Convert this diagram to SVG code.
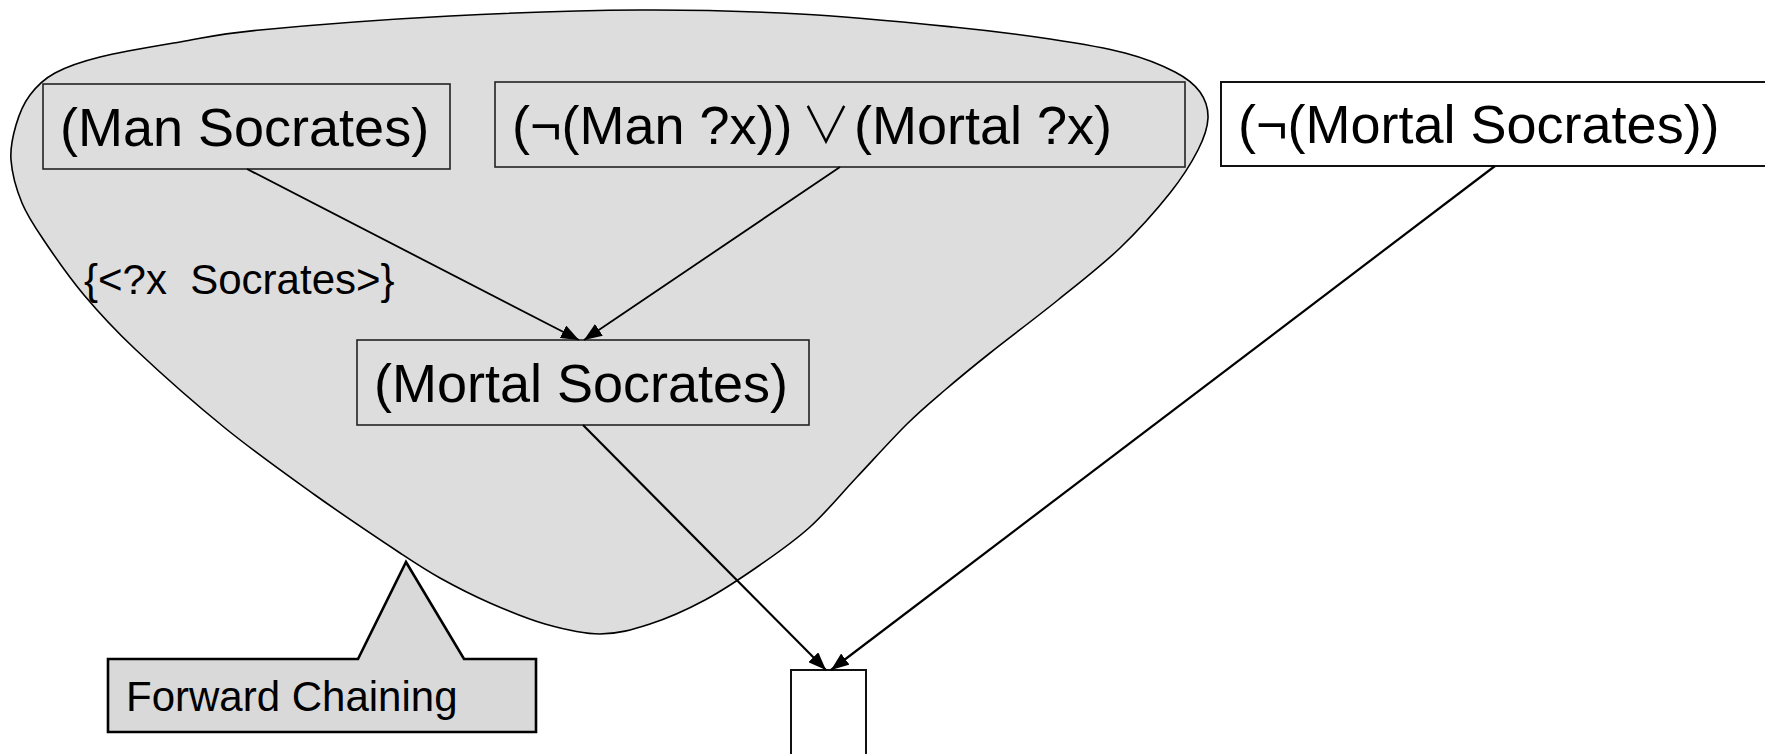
<svg xmlns="http://www.w3.org/2000/svg" width="1765" height="754" viewBox="0 0 1765 754">
  <style>
    .blob { fill: #dddddd; stroke: #000; stroke-width: 1.6; }
    .box { fill: none; stroke: #222; stroke-width: 1.6; }
    .box-w { fill: #fff; stroke: #111; stroke-width: 2; }
    .lbl { font-family: "Liberation Sans", Arial, sans-serif; font-size: 54px; fill: #000; }
    .small { font-family: "Liberation Sans", Arial, sans-serif; font-size: 42px; fill: #000; white-space: pre; }
    .sym { font-family: "Noto Sans CJK JP", "DejaVu Sans", sans-serif; font-size: 50px; font-weight: 300; letter-spacing: -28px; }
    .tight { word-spacing: -15px; }
    .edge { fill: none; stroke: #000; }
    .callout { fill: #d9d9d9; stroke: #000; stroke-width: 2.6; stroke-linejoin: miter; }
  </style>
  <defs>
    <marker id="arrow" viewBox="0 0 18 14" refX="18" refY="7" markerWidth="18" markerHeight="14" markerUnits="userSpaceOnUse" orient="auto">
      <path d="M0,0 L18,7 L0,14 Z" fill="#000"/>
    </marker>
  </defs>

  <rect width="1765" height="754" fill="#fff"/>

  <!-- forward-chaining region -->
  <path id="region" class="blob" d="M11,160
    C10,147 12.83,135.83 16,125
    C19.17,114.17 23.5,103.67 30,95
    C36.5,86.33 43.33,79.33 55,73
    C66.67,66.67 79.17,62.17 100,57
    C120.83,51.83 153.33,46.5 180,42
    C206.67,37.5 215,34.33 260,30
    C305,25.67 386.67,19.33 450,16
    C513.33,12.67 581.67,10.33 640,10
    C698.33,9.67 747.83,11.17 800,14
    C852.17,16.83 911.33,22.83 953,27
    C994.67,31.17 1021.33,34.67 1050,39
    C1078.67,43.33 1104.17,47.5 1125,53
    C1145.83,58.5 1162.5,65.5 1175,72
    C1187.5,78.5 1194.5,84.33 1200,92
    C1205.5,99.67 1208.33,108.33 1208,118
    C1207.67,127.67 1204.33,137.5 1198,150
    C1191.67,162.5 1183,176.67 1170,193
    C1157,209.33 1138.67,230.17 1120,248
    C1101.33,265.83 1079.67,282.5 1058,300
    C1036.33,317.5 1008.83,338 990,353
    C971.17,368 958.83,378.17 945,390
    C931.17,401.83 921.67,409.5 907,424
    C892.33,438.5 873.17,459.83 857,477
    C840.83,494.17 826.17,512.33 810,527
    C793.83,541.67 777.5,552.83 760,565
    C742.5,577.17 723.33,590.17 705,600
    C686.67,609.83 667.5,618.33 650,624
    C632.5,629.67 617.5,634 600,634
    C582.5,634 563.33,629.17 545,624
    C526.67,618.83 507.5,610.67 490,603
    C472.5,595.33 455,586.33 440,578
    C425,569.67 420.83,566.83 400,553
    C379.17,539.17 344.17,515.83 315,495
    C285.83,474.17 255,452.33 225,428
    C195,403.67 158.5,371.17 135,349
    C111.5,326.83 99,312.83 84,295
    C69,277.17 55.33,257.33 45,242
    C34.67,226.67 27.67,216.67 22,203
    C16.33,189.33 12,173 11,160 Z"/>

  <!-- clause nodes -->
  <g id="node-man-socrates">
    <rect class="box" x="43" y="84" width="407" height="85"/>
    <text class="lbl" x="60" y="145.5">(Man Socrates)</text>
  </g>
  <g id="node-rule">
    <rect class="box" x="495" y="82" width="690" height="85"/>
    <text class="lbl" x="512" y="143.5">(¬(Man ?x))<tspan class="tight"> </tspan><tspan class="sym" x="801" y="143">∨</tspan><tspan x="839" y="143.5"> (Mortal ?x)</tspan></text>
  </g>
  <g id="node-negated-goal">
    <rect class="box-w" x="1221" y="82" width="600" height="84"/>
    <text class="lbl" x="1238" y="143">(¬(Mortal Socrates))</text>
  </g>
  <g id="node-mortal-socrates">
    <rect class="box" x="357" y="340" width="452" height="85"/>
    <text class="lbl" x="374" y="401.5">(Mortal Socrates)</text>
  </g>
  <g id="node-empty-clause">
    <rect class="box-w" x="791" y="670" width="75" height="110"/>
  </g>

  <!-- resolution edges -->
  <g id="connectors">
    <line class="edge" x1="247" y1="169" x2="579" y2="340" stroke-width="1.8" marker-end="url(#arrow)"/>
    <line class="edge" x1="840" y1="167" x2="584" y2="340" stroke-width="1.8" marker-end="url(#arrow)"/>
    <line class="edge" x1="583" y1="425" x2="826" y2="670" stroke-width="2.2" marker-end="url(#arrow)"/>
    <line class="edge" x1="1495" y1="166" x2="831" y2="670" stroke-width="2.2" marker-end="url(#arrow)"/>
  </g>

  <!-- substitution label -->
  <text id="substitution" class="small" x="84" y="294">{&lt;?x  Socrates&gt;}</text>

  <!-- callout -->
  <g id="callout-forward-chaining">
    <path class="callout" d="M108,659 L358,659 L406,562 L464,659 L536,659 L536,732 L108,732 Z"/>
    <text class="small" x="126" y="711">Forward Chaining</text>
  </g>
</svg>
